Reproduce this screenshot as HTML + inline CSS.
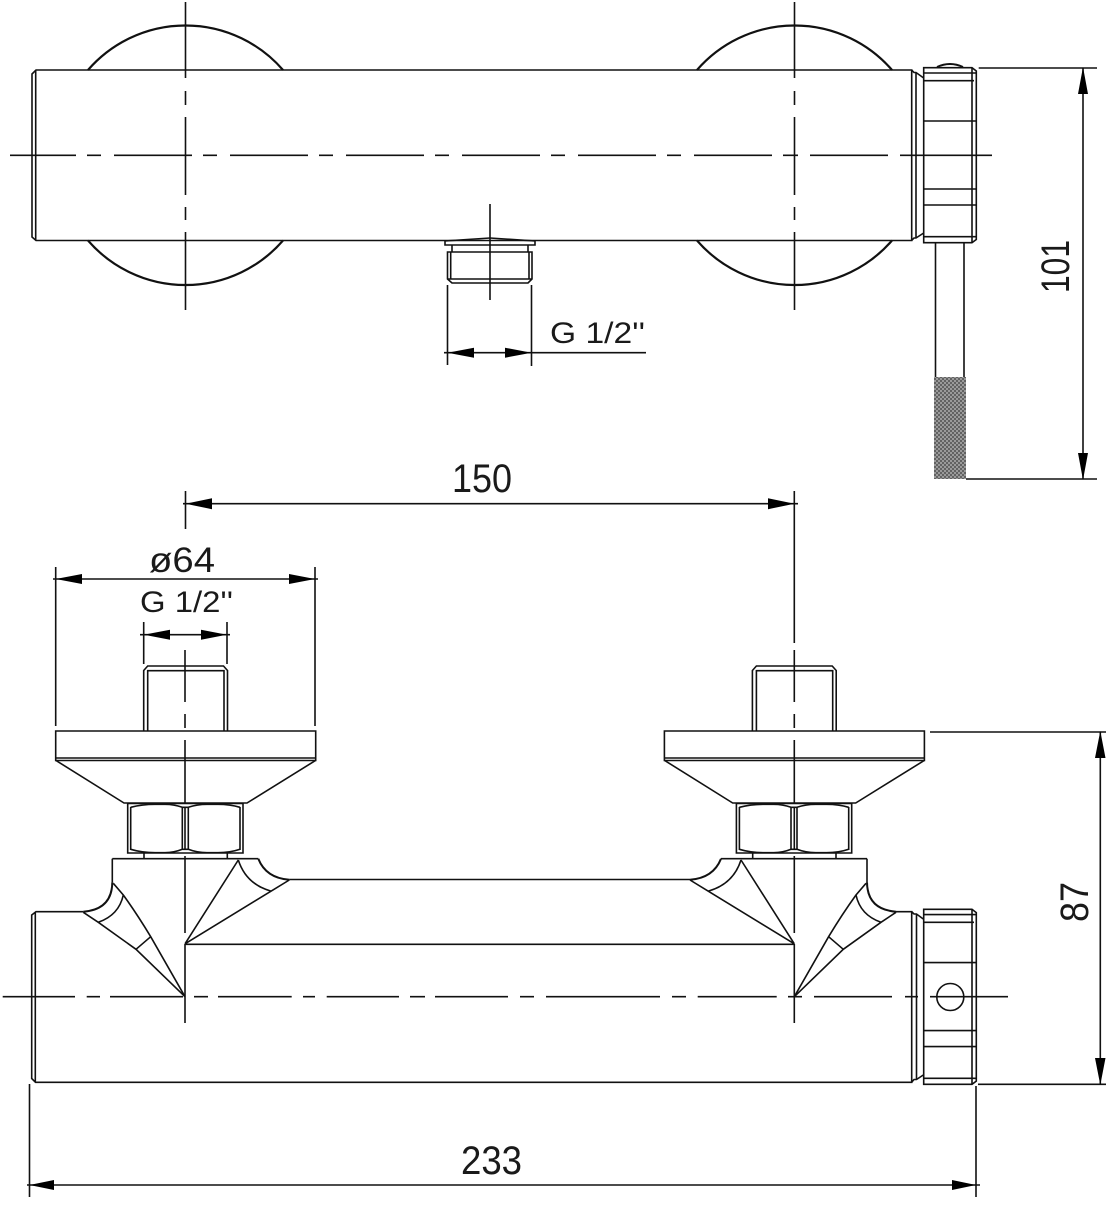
<!DOCTYPE html>
<html>
<head>
<meta charset="utf-8">
<style>
html,body{margin:0;padding:0;background:#fff;}
svg{display:block;}
text{font-family:"Liberation Sans",sans-serif;fill:#1a1a1a;}
</style>
</head>
<body>
<svg width="1106" height="1209" viewBox="0 0 1106 1209" xmlns="http://www.w3.org/2000/svg">
<defs>
<pattern id="kn" width="4" height="4" patternUnits="userSpaceOnUse">
<rect width="4" height="4" fill="#9a9a9a"/>
<circle cx="1" cy="1" r="0.9" fill="#3a3a3a"/>
<circle cx="3" cy="3" r="0.9" fill="#3a3a3a"/>
</pattern>
<g id="nut">
<path d="M923.7 67.7H972L976.3 71V239.5L972 242.7H923.7Z"/>
<path d="M972 67.7V242.7M923.7 73H976.3M923.7 80.7H974M923.7 121H976.3M923.7 189H976.3M923.7 205H976.3M923.7 236.7H976.3"/>
</g>
<g id="mount">
<!-- stud -->
<path d="M143.7 731V670.5L147.7 666H223.5L227.5 670.5V731M147.7 731V670.7H224V731"/>
<!-- plate -->
<path d="M55.7 731H315.7V760.5H55.7ZM55.7 758H315.7"/>
<path d="M56 760.5L124 803H247L315.5 760.5"/>
<!-- hex -->
<path d="M127.7 803.5H243V853H127.7ZM130.7 807V850M240 807V850M182.3 807V850M188.3 807V850"/>
<path d="M130.7 807.3Q142 804.3 155 804.3H165Q174 804.3 182.3 807.3H188.3Q197 804.3 207 804.3H218Q230 804.3 240 807.3"/>
<path d="M130.7 849.3Q142 852.7 155 852.7H165Q174 852.7 182.3 849.3H188.3Q197 852.7 207 852.7H218Q230 852.7 240 849.3"/>
<path d="M144 853V858.7M227.3 853V858.7"/>
</g>
<g id="cone">
<path d="M112.3 858.7V882.3" />
<path d="M112.3 882.3Q112 909.5 83.3 911.7" stroke-width="2"/>
<path d="M113.3 883.3L123.3 895Q137 914 150.7 936.7L185 996.7"/>
<path d="M83.3 912.3L98.3 922.3L136 949.3L185 996.7"/>
<path d="M98.3 922.3Q119 915 123.3 895M136 949.3L150.7 936.7"/>
<path d="M185 943.8L238.3 860M185 943.8L289.3 880"/>
<path d="M238.3 860Q246 884 270.7 891"/>
<path d="M258.3 858.7Q266 878 289.3 879.7" stroke-width="2"/>
</g>
</defs>

<g fill="none" stroke="#111" stroke-width="1.6">
<!-- TOP VIEW -->
<path d="M88 70A129 129 0 0 1 283 70M88 240.5A129 129 0 0 0 283 240.5" stroke-width="2.2"/>
<path d="M697 70A129 129 0 0 1 892 70M697 240.5A129 129 0 0 0 892 240.5" stroke-width="2.2"/>
<path d="M36 70H911.7V240.5H36L32 237V74Z"/>
<path d="M35.7 70V240.5"/>
<path d="M916 72.5V238M911.7 70L914 72.5H916L923.7 78M911.7 240.5L914 238H916L923.7 233"/>
<use href="#nut"/>
<path d="M937 67Q950 61 963 67" stroke-width="2"/>
<!-- handle -->
<path d="M935.5 243V377M964 243V377"/>
<rect x="934" y="377" width="32" height="102" fill="url(#kn)" stroke="none"/>
<!-- centre lines top -->
<path d="M10 155.3H76M87 155.3H101M114 155.3H192M203 155.3H217M230 155.3H308M319 155.3H333M346 155.3H424M435 155.3H449M462 155.3H540M551 155.3H565M578 155.3H656M667 155.3H681M694 155.3H772M783 155.3H798M810 155.3H888M900 155.3H992"/>
<path d="M185.5 2V78M185.5 91V105M185.5 117V195M185.5 207V220M185.5 232V310"/>
<path d="M794.5 2V78M794.5 91V105M794.5 117V195M794.5 207V220M794.5 232V310"/>
<!-- outlet -->
<path d="M445 245V241L490 238L535 241V245ZM452 245V252M528 245V252"/>
<path d="M447.5 252H532V279L528 283H452L447.5 279ZM450.7 252V279M529 252V279M447.5 279H532"/>
<path d="M490 204V300"/>
<!-- dims top -->
<path d="M447.5 285V365M531.5 285V366M444 352.7H646"/>
<path d="M978.7 68H1097M966 479H1097M1083 68V479"/>

<!-- BOTTOM VIEW -->
<use href="#mount"/>
<use href="#mount" x="608.7"/>
<path d="M112.3 858.7H258.3M721 858.7H867"/>
<use href="#cone"/>
<use href="#cone" transform="translate(979.3 0) scale(-1 1)"/>
<path d="M289.3 879.5H690M185 944.3H794.3M185 944V1023M794.3 944V1023"/>
<path d="M83.3 911.7H36L31.7 915V1078.5L35.5 1082.3H911.7V911.7H896M35.3 912V1082.3"/>
<path d="M916.5 914V1079.5M911.7 911.7L914 914H916.5L923.3 919M911.7 1082.3L914 1079.5H916.5L923.3 1075"/>
<use href="#nut" y="841.6"/>
<circle cx="950.3" cy="997" r="13.5"/>
<!-- centre lines bottom -->
<path d="M2.7 996.7H75M86.7 996.7H100M110 996.7H183M194 996.7H208M218 996.7H291.7M303 996.7H315M326.7 996.7H399M410 996.7H425M435 996.7H508M520 996.7H534M546 996.7H660M672 996.7H686M697.7 996.7H776.7M788 996.7H802M814 996.7H892M905 996.7H918M930 996.7H1008"/>
<path d="M185 650V702M185 714V728M185 740V803M185 808V849M185 856V933"/>
<path d="M794.3 491V643M794.3 650V702M794.3 714V728M794.3 740V803M794.3 808V849M794.3 856V933"/>
<!-- dims bottom -->
<path d="M185.5 491V529M183 503.7H798"/>
<path d="M55.7 567V726M315 567V726M53 579H318"/>
<path d="M143.7 622V664M227 622V664M140 634.7H230"/>
<path d="M29.5 1084V1197M976 1086V1197M27 1185H980"/>
<path d="M930 732H1106M978 1084.3H1106M1100.3 732V1084"/>
</g>

<!-- arrowheads -->
<g fill="#000" stroke="none">
<path d="M447.5 352.7L474 347.7V357.7ZM531.5 352.7L505 347.7V357.7Z"/>
<path d="M1083 67L1088 94H1078ZM1083 480L1088 453H1078Z"/>
<path d="M185.5 503.7L212 498.2V509.2ZM794.5 503.7L768 498.2V509.2Z"/>
<path d="M55.7 579L82 574V584ZM315 579L289 574V584Z"/>
<path d="M143.7 634.7L170 629.7V639.7ZM227 634.7L201 629.7V639.7Z"/>
<path d="M29.5 1185L54 1180V1190ZM976 1185L952 1180V1190Z"/>
<path d="M1100.3 731L1105.5 758H1095ZM1100.3 1085L1105.5 1058H1095Z"/>
</g>

<!-- text -->
<text x="550" y="343" font-size="30" textLength="95" lengthAdjust="spacingAndGlyphs">G 1/2''</text>
<text x="140" y="612" font-size="30" textLength="93" lengthAdjust="spacingAndGlyphs">G 1/2''</text>
<text x="149" y="572" font-size="35" textLength="66" lengthAdjust="spacingAndGlyphs">ø64</text>
<text x="452" y="492" font-size="40" textLength="60" lengthAdjust="spacingAndGlyphs">150</text>
<text x="461" y="1174" font-size="40" textLength="61" lengthAdjust="spacingAndGlyphs">233</text>
<text transform="translate(1069 293) rotate(-90)" font-size="40" textLength="53" lengthAdjust="spacingAndGlyphs">101</text>
<text transform="translate(1088 922) rotate(-90)" font-size="40" textLength="40" lengthAdjust="spacingAndGlyphs">87</text>
</svg>
</body>
</html>
